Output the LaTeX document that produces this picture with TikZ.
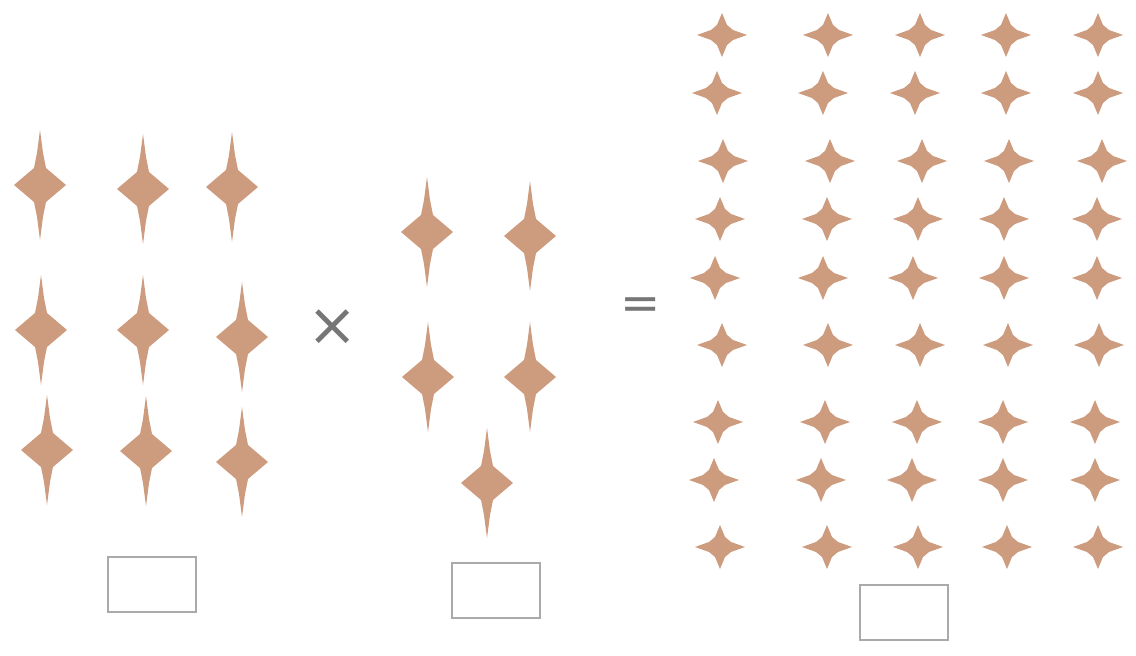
\documentclass[tikz,border=0pt]{standalone}
\usepackage{fontspec}
\newfontfamily\signfont{DejaVu Sans}
\usetikzlibrary{positioning}

\definecolor{starfill}{RGB}{205,155,125}
\definecolor{signgray}{RGB}{118,118,118}
\definecolor{boxgray}{RGB}{170,170,170}

\begin{document}
\begin{tikzpicture}[
    x=0.5pt, y=-0.5pt,
    tallstar/.pic={
        \fill[starfill] (0,-55) -- (3,-32) -- (6,-17) -- (26,0) -- (6,17) -- (3,32) -- (0,55)
            -- (-3,32) -- (-6,17) -- (-26,0) -- (-6,-17) -- (-3,-32) -- cycle;
    },
    smallstar/.pic={
        \fill[starfill] (0,-22) -- (5,-10) -- (11,-5) -- (25,0) -- (11,5) -- (5,10) -- (0,22)
            -- (-5,10) -- (-11,5) -- (-25,0) -- (-11,-5) -- (-5,-10) -- cycle;
    },
    answer/.style={rectangle, draw=boxgray, line width=1pt, minimum width=44pt, minimum height=27.5pt, inner sep=0pt},
    sign/.style={text=signgray, inner sep=0pt},
]

\useasboundingbox (0,0) rectangle (1136,656);

% ====== Left group (3 x 3) ======
\foreach \px/\py in {40/185, 143/189, 232/187,
                     41/330, 143/330, 242/337,
                     47/450, 146/451, 242/462}
    \pic at (\px,\py) {tallstar};

\node[answer] (boxA) at (151.5,584.5) {};

% ====== Times sign ======
\node[sign, font=\signfont\fontsize{30}{30}\selectfont] (times) at (333,328) {×};

% ====== Middle group (5) ======
\foreach \px/\py in {427/232, 530/236, 428/377, 530/377, 487/483}
    \pic at (\px,\py) {tallstar};

\node[answer] (boxB) at (496,591) {};

% ====== Equals sign ======
\node[sign, font=\signfont\fontsize{24}{24}\selectfont] (equals) at (641,308.5) {=};

% ====== Right grid (9 x 5) ======
\foreach \py/\xa/\xb/\xc/\xd/\xe in {
        35/722/828/920/1006/1098,
        93/717/823/915/1006/1098,
        161/723/830/922/1009/1102,
        219/720/827/918/1004/1097,
        278/715/823/913/1004/1097,
        345/722/828/920/1008/1099,
        422/718/825/917/1003/1095,
        480/714/821/912/1003/1095,
        547/720/827/918/1007/1098}
    \foreach \px in {\xa,\xb,\xc,\xd,\xe}
        \pic at (\px,\py) {smallstar};

\node[answer] (boxC) at (904,613) {};

\end{tikzpicture}
\end{document}
